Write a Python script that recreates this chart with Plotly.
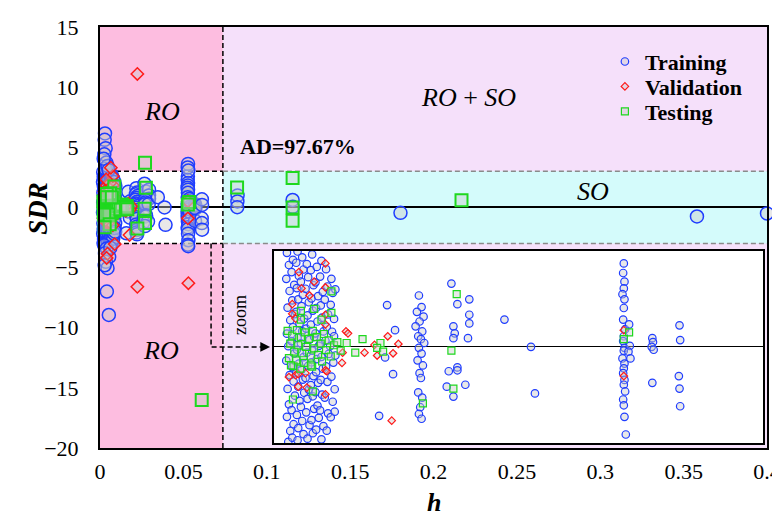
import plotly.graph_objects as go

# ---------------- data ----------------
H_STAR = 0.0737  # warning leverage h*

train_h = [
    # dense cluster near h = 0
    0.0019, 0.0022, 0.0018, 0.0023, 0.0020, 0.0024, 0.0019, 0.0021, 0.0018, 0.0023, 0.0020, 0.0022, 0.0019, 0.0024, 0.0021,
    0.0028, 0.0026, 0.0030, 0.0027, 0.0031, 0.0028, 0.0026, 0.0030, 0.0027, 0.0029, 0.0031, 0.0026, 0.0029, 0.0027,
    0.0035, 0.0033, 0.0037, 0.0034, 0.0036, 0.0033, 0.0038, 0.0035, 0.0034, 0.0037, 0.0033, 0.0036, 0.0038, 0.0034, 0.0036, 0.0035,
    0.0042, 0.0044, 0.0040, 0.0043, 0.0041, 0.0045, 0.0042, 0.0040, 0.0044, 0.0041, 0.0043, 0.0045, 0.0040, 0.0042, 0.0044,
    0.0049, 0.0051, 0.0047, 0.0052, 0.0050, 0.0048, 0.0053, 0.0049, 0.0051, 0.0047, 0.0052, 0.0050, 0.0048, 0.0053, 0.0050,
    0.0057, 0.0055, 0.0059, 0.0056, 0.0058, 0.0055, 0.0060, 0.0057, 0.0056, 0.0059, 0.0055, 0.0058, 0.0060, 0.0056, 0.0058,
    0.0064, 0.0062, 0.0066, 0.0063, 0.0065, 0.0062, 0.0067, 0.0064, 0.0063, 0.0066, 0.0062, 0.0065, 0.0067, 0.0063,
    0.0071, 0.0069, 0.0073, 0.0070, 0.0072, 0.0074, 0.0069, 0.0071, 0.0073, 0.0070, 0.0072, 0.0069, 0.0074, 0.0071,
    0.0078, 0.0080, 0.0076, 0.0081, 0.0079, 0.0077, 0.0082, 0.0078, 0.0080, 0.0076, 0.0081, 0.0079,
    0.0086, 0.0088, 0.0085, 0.0090, 0.0087, 0.0084, 0.0089, 0.0086, 0.0091, 0.0088, 0.0085, 0.0092, 0.0090, 0.0092, 0.0091,
    # near h = 0, |SDR| > 3
    0.0030, 0.0028, 0.0034, 0.0026, 0.0038, 0.0031, 0.0045, 0.0022, 0.0052, 0.0025, 0.0040, 0.0030, 0.0055, 0.0035,
    0.0062, 0.0045, 0.0028, 0.0041, 0.0053,
    # h ~ 0.016 - 0.039
    0.0170, 0.0182, 0.0167, 0.0179, 0.0158,
    0.0218, 0.0222, 0.0215, 0.0225, 0.0219, 0.0213, 0.0223, 0.0217, 0.0221, 0.0226, 0.0218, 0.0222, 0.0216, 0.0224,
    0.0219, 0.0221, 0.0217, 0.0223, 0.0220, 0.0218, 0.0222,
    0.0267, 0.0276, 0.0294, 0.0294, 0.0294, 0.0270, 0.0272, 0.0270, 0.0292, 0.0263, 0.0276, 0.0276, 0.0260, 0.0288, 0.0270,
    0.0347, 0.0387, 0.0393,
    # column h ~ 0.053
    0.0527, 0.0526, 0.0528, 0.0527, 0.0525, 0.0528, 0.0527, 0.0526, 0.0529, 0.0527, 0.0526, 0.0528, 0.0527, 0.0525,
    0.0528, 0.0527, 0.0526, 0.0528, 0.0527, 0.0529, 0.0526, 0.0527, 0.0528, 0.0530,
    0.0535, 0.0536, 0.0534, 0.0537,
    0.0528, 0.0526, 0.0530, 0.0527, 0.0529,
    0.0570, 0.0571, 0.0569, 0.0572, 0.0570,
    0.0611, 0.0612, 0.0610, 0.0611, 0.0612,
    # beyond h*
    0.0825, 0.0824, 0.0823, 0.1155, 0.1156, 0.1802, 0.3580, 0.4000,
]
train_sdr = [
    2.93, 2.55, 2.12, 1.74, 1.22, 0.83, 0.41, 0.02, -0.43, -0.88, -1.31, -1.79, -2.18, -2.62, -2.96,
    2.71, 2.33, 1.93, 1.45, 1.02, 0.61, 0.18, -0.21, -0.63, -1.08, -1.52, -1.97, -2.41, -2.83,
    2.97, 2.62, 2.21, 1.83, 1.48, 1.09, 0.72, 0.28, -0.09, -0.52, -0.81, -1.24, -1.68, -2.12, -2.53, -2.91,
    2.79, 2.41, 2.03, 1.62, 1.27, 0.88, 0.49, 0.11, -0.32, -0.71, -1.02, -1.43, -1.87, -2.31, -2.72,
    2.58, 2.17, 1.81, 1.39, 0.98, 0.57, 0.22, -0.18, -0.59, -0.97, -1.33, -1.62, -2.04, -2.44, -2.86,
    2.88, 2.39, 1.92, 1.51, 1.13, 0.69, 0.31, -0.12, -0.48, -0.91, -1.19, -1.54, -1.93, -2.28, -2.69,
    2.49, 2.01, 1.58, 1.21, 0.79, 0.42, 0.03, -0.38, -0.79, -1.12, -1.41, -1.83, -2.21, -2.58,
    2.68, 2.19, 1.71, 1.29, 0.91, 0.48, 0.09, -0.31, -0.68, -1.03, -1.49, -1.98, -2.47, -2.88,
    2.42, 1.88, 1.47, 1.01, 0.62, 0.19, -0.22, -0.61, -1.09, -1.58, -2.07, -2.61,
    2.12, 1.68, 1.31, 0.87, 0.47, 0.02, -0.49, -0.93, -1.32, -1.71, -2.19, 1.79, 0.33, -0.27, -2.02,
    6.15, 5.62, 4.93, 4.42, 3.73, 3.22, 3.45, 4.05, 3.12, -3.15, -3.42, -3.81, -4.12, -4.52,
    -3.35, -5.05, -4.81, -6.99, -8.94,
    1.30, 0.52, -0.33, -0.85, -2.15,
    1.60, 1.24, 1.09, 0.94, 0.79, 0.64, 0.48, 0.33, 0.24, 0.12, -0.03, -0.21, -0.42, -0.58,
    -0.82, -0.97, -1.42, -1.58, -1.88, -2.09, -2.24,
    1.97, 1.33, 1.48, 1.00, 0.73, 0.64, 0.42, 0.27, 0.27, -0.76, -0.64, -0.73, -1.24, -1.18, -1.55,
    0.85, 0.00, -1.45,
    2.60, 2.30, 2.03, 1.82, 1.64, 1.48, 1.21, 0.85, 0.55, 0.33, 0.18, -0.03, -0.12, -0.36,
    -0.52, -0.67, -0.82, -1.03, -1.18, -1.39, -1.64, -1.82, -2.18, -2.73,
    0.70, 0.03, -0.15, -0.36,
    3.62, 3.32, 3.06, -3.10, -3.22,
    0.27, 0.15, 0.00, -0.09, -1.12,
    0.67, 0.21, -0.91, -1.30, -1.85,
    1.00, 0.50, 0.02, 0.62, 0.05, -0.45, -0.75, -0.50,
]

val_h = [
    0.0041, 0.0077, 0.0053, 0.0060, 0.0027, 0.0027, 0.0077, 0.0032, 0.0077, 0.0077,
    0.0032, 0.0036, 0.0047, 0.0079, 0.0036, 0.0049, 0.0077, 0.0022, 0.0077, 0.0037,
    0.0108, 0.0111, 0.0103, 0.0102, 0.0136, 0.0155, 0.0171, 0.0187, 0.0179, 0.0177, 0.0151,
    0.0527, 0.0527,
    0.0224, 0.0065, 0.0224, 0.0530, 0.0088, 0.0045, 0.0040,
]
val_sdr = [
    1.82, 1.85, 1.60, 2.03, 1.33, 1.03, 1.00, 0.88, 0.70, -0.73,
    -0.88, -0.85, -0.82, -0.76, -1.24, -1.27, -1.48, -0.94, 2.60, 2.33,
    0.48, 0.42, -0.18, -0.50, -0.18, -0.27, 0.33, 0.09, -0.20, -2.30, 0.06,
    0.52, -0.91,
    11.10, 3.30, -6.60, -6.30, -3.05, -3.85, -4.20,
]

test_h = [
    0.0020, 0.0024, 0.0022, 0.0027, 0.0030, 0.0029, 0.0034, 0.0036, 0.0033, 0.0040, 0.0042, 0.0039,
    0.0046, 0.0048, 0.0045, 0.0052, 0.0055, 0.0058, 0.0060, 0.0057, 0.0064, 0.0066, 0.0070, 0.0072,
    0.0075, 0.0078, 0.0082, 0.0085, 0.0090, 0.0095, 0.0100, 0.0109, 0.0055, 0.0025,
    0.0133, 0.0122, 0.0160, 0.0155, 0.0164, 0.0267, 0.0275, 0.0270, 0.0224, 0.0086, 0.0086, 0.0060,
    0.0040, 0.0040, 0.0071, 0.0058, 0.0028, 0.0535, 0.0527,
    0.0270, 0.0610, 0.0822, 0.1155, 0.1155, 0.1155, 0.2168,
]
test_sdr = [
    0.50, 0.10, -0.35, 0.35, -0.15, -0.60, 0.52, 0.05, -0.42, 0.30, -0.20, -0.68,
    0.45, 0.00, -0.50, 0.25, -0.30, 0.50, -0.05, -0.62, 0.30, -0.25, 0.10, -0.45,
    0.40, -0.10, 0.20, -0.30, 0.05, 0.15, -0.12, 0.12, -0.58, -0.58,
    0.24, -0.18, 0.12, -0.03, -0.15, -0.12, 1.64, -1.30, -1.76, 1.73, 1.06, 1.18,
    1.12, 0.85, 0.85, -1.39, -1.64, 0.45, 0.24,
    3.72, -16.00, 1.65, 2.45, 0.00, -1.10, 0.60,
]

x_ticks = [0, 0.05, 0.1, 0.15, 0.2, 0.25, 0.3, 0.35, 0.4]
x_ticklabels = ["0", "0.05", "0.1", "0.15", "0.2", "0.25", "0.3", "0.35", "0.4"]
y_ticks = [15, 10, 5, 0, -5, -10, -15, -20]

# ---------------- styling ----------------
SERIF = "Liberation Serif"
FILL = "rgba(200,200,200,0.42)"
BLUE = "#1f3dff"
RED = "#ff1a1a"
GREEN = "#1ed81e"
PINK = "#fdbde0"
LAVENDER = "#f5e0fa"
CYAN = "#d4fbfb"


def in_window(hs, ss):
    px, py = [], []
    for a, b in zip(hs, ss):
        if a <= H_STAR and -3 <= b <= 3:
            px.append(a)
            py.append(b)
    return px, py


fig = go.Figure()

series = [
    ("Training", train_h, train_sdr, "circle", 13, 7.5, BLUE, 1.5, "legend"),
    ("Validation", val_h, val_sdr, "diamond", 9.5, 5.8, RED, 1.5, "legend2"),
    ("Testing", test_h, test_sdr, "square", 12, 7, GREEN, 2, "legend3"),
]

for name, hs, ss, sym, big, small, col, lw, leg in series:
    fig.add_trace(go.Scatter(
        x=hs, y=ss, mode="markers", name=name, showlegend=False, cliponaxis=False,
        marker=dict(symbol=sym, size=big, color=FILL, line=dict(color=col, width=lw)),
        xaxis="x", yaxis="y"))

for name, hs, ss, sym, big, small, col, lw, leg in series:
    ix, iy = in_window(hs, ss)
    fig.add_trace(go.Scatter(
        x=ix, y=iy, mode="markers", name=name, showlegend=True, legend=leg,
        marker=dict(symbol=sym, size=small, color=FILL, line=dict(color=col, width=1.2)),
        xaxis="x2", yaxis="y2"))

DASH = "5px,3px"
shapes = [
    dict(type="rect", xref="x", yref="y", x0=0, x1=H_STAR, y0=-20, y1=15, fillcolor=PINK, line_width=0, layer="below"),
    dict(type="rect", xref="x", yref="y", x0=H_STAR, x1=0.4, y0=-20, y1=15, fillcolor=LAVENDER, line_width=0, layer="below"),
    dict(type="rect", xref="x", yref="y", x0=0, x1=H_STAR, y0=-3, y1=3, fillcolor="white", line_width=0, layer="below"),
    dict(type="rect", xref="x", yref="y", x0=H_STAR, x1=0.4, y0=-3, y1=3, fillcolor=CYAN, line_width=0, layer="below"),
    dict(type="line", xref="x", yref="y", x0=H_STAR, x1=H_STAR, y0=-20, y1=15, line=dict(color="black", width=1.5, dash=DASH), layer="below"),
    dict(type="line", xref="x", yref="y", x0=0, x1=H_STAR, y0=3, y1=3, line=dict(color="black", width=1.5, dash=DASH), layer="below"),
    dict(type="line", xref="x", yref="y", x0=0, x1=H_STAR, y0=-3, y1=-3, line=dict(color="black", width=1.5, dash=DASH), layer="below"),
    dict(type="line", xref="x", yref="y", x0=H_STAR, x1=0.4, y0=3, y1=3, line=dict(color="#8a8a8a", width=1.5, dash=DASH), layer="below"),
    dict(type="line", xref="x", yref="y", x0=H_STAR, x1=0.4, y0=-3, y1=-3, line=dict(color="#8a8a8a", width=1.5, dash=DASH), layer="below"),
    # dashed leader to the zoom inset
    dict(type="path", xref="x", yref="y", path="M 0.0666,-3 L 0.0666,-11.6 L 0.0975,-11.6",
         line=dict(color="black", width=1.5, dash=DASH)),
    # inset background
    dict(type="rect", xref="x2", yref="y2", x0=0, x1=H_STAR, y0=-3, y1=3, fillcolor="white", line_width=0, layer="below"),
]

annotations = [
    dict(x=0.1020, y=-11.6, ax=0.096, ay=-11.6, xref="x", yref="y", axref="x", ayref="y", text="",
         showarrow=True, arrowhead=2, arrowsize=1.3, arrowwidth=1.5, arrowcolor="black", standoff=0),
    dict(x=0.0371, y=7.97, xref="x", yref="y", text="<i>RO</i>", showarrow=False, font=dict(family=SERIF, size=26, color="black")),
    dict(x=0.0365, y=-11.9, xref="x", yref="y", text="<i>RO</i>", showarrow=False, font=dict(family=SERIF, size=26, color="black")),
    dict(x=0.221, y=9.1, xref="x", yref="y", text="<i>RO</i> + <i>SO</i>", showarrow=False, font=dict(family=SERIF, size=26, color="black")),
    dict(x=0.2957, y=1.34, xref="x", yref="y", text="<i>SO</i>", showarrow=False, font=dict(family=SERIF, size=26, color="black")),
    dict(x=0.119, y=5.06, xref="x", yref="y", text="<b>AD=97.67%</b>", showarrow=False, font=dict(family=SERIF, size=22, color="black")),
    dict(x=0.0842, y=-8.9, xref="x", yref="y", text="zoom", textangle=-90, showarrow=False, font=dict(family=SERIF, size=18, color="black")),
    # axis titles
    dict(x=0.5, y=-0.168, xref="paper", yref="paper", text="<b><i>h</i></b>", showarrow=False,
         font=dict(family=SERIF, size=26, color="black")),
    dict(x=-0.119, y=0.570, xref="paper", yref="paper", text="<b><i>SDR</i></b>", textangle=-90, showarrow=False,
         font=dict(family=SERIF, size=27, color="black")),
]

LEG_FONT = dict(family=SERIF, size=22, color="black", weight="bold")
leg_common = dict(x=0.757, xanchor="left", yanchor="middle", bgcolor="rgba(0,0,0,0)", font=LEG_FONT, itemwidth=30)

fig.update_layout(
    width=780, height=518,
    margin=dict(l=92, r=7, t=7, b=78),
    paper_bgcolor="white", plot_bgcolor="white",
    shapes=shapes, annotations=annotations,
    font=dict(family=SERIF, color="black"),
    legend=dict(y=0.9176, **leg_common),
    legend2=dict(y=0.8584, **leg_common),
    legend3=dict(y=0.7991, **leg_common),
    xaxis=dict(range=[0, 0.4], tickvals=x_ticks, ticktext=x_ticklabels, showgrid=False, zeroline=False,
               showline=True, mirror=True, linecolor="black", linewidth=2, ticks="",
               tickfont=dict(family=SERIF, size=22, color="black"), ticklabelstandoff=3,
               ticklabeloverflow="allow"),
    yaxis=dict(range=[-20, 15], tickvals=y_ticks, showgrid=False, zeroline=True, zerolinecolor="black",
               zerolinewidth=1.5, showline=True, mirror=True, linecolor="black", linewidth=2, ticks="",
               tickfont=dict(family=SERIF, size=22, color="black"), ticklabelstandoff=15,
               ticklabeloverflow="allow"),
    xaxis2=dict(domain=[0.2614, 0.9941], anchor="y2", range=[0, H_STAR], showgrid=False, zeroline=False,
                showticklabels=False, showline=True, mirror=True, linecolor="black", linewidth=1.5, ticks=""),
    yaxis2=dict(domain=[0.0115, 0.469], anchor="x2", range=[-3, 3], showgrid=False, zeroline=True,
                zerolinecolor="black", zerolinewidth=1.2, showticklabels=False, showline=True, mirror=True,
                linecolor="black", linewidth=1.5, ticks=""),
)

fig.write_html("out.html")
